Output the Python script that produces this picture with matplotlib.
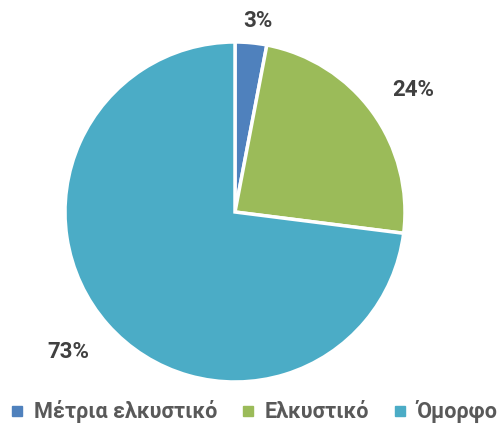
import numpy as np
import matplotlib.pyplot as plt
from matplotlib.lines import Line2D

plt.rcParams['font.family'] = ['Roboto', 'DejaVu Sans']

# δεδομένα
categories = ['Μέτρια ελκυστικό', 'Ελκυστικό', 'Όμορφο']
values = [3, 24, 73]
colors = ['#4F81BD', '#9BBB59', '#4BACC6']
label_dist = [1.13, 1.27, 1.28]

fig = plt.figure(figsize=(4.97, 4.30), dpi=100)
ax = fig.add_axes([65 / 497, (430 - 212 - 170) / 430, 340 / 497, 340 / 430])

wedges, _ = ax.pie(values, colors=colors, startangle=90, counterclock=False,
                   wedgeprops=dict(edgecolor='white', linewidth=2.5))
ax.set_xlim(-1, 1)
ax.set_ylim(-1, 1)
ax.set_aspect('equal')

# ετικέτες ποσοστών
for w, v, d in zip(wedges, values, label_dist):
    ang = np.deg2rad((w.theta1 + w.theta2) / 2 - 1.5)
    ax.text(d * np.cos(ang), d * np.sin(ang), f'{v}%', ha='center', va='center',
            fontsize=16, fontweight='bold', color='#404040', clip_on=False)

handles = [Line2D([0], [0], marker='s', linestyle='', markersize=7.5,
                  markerfacecolor=c, markeredgecolor=c) for c in colors]
fig.legend(handles, categories, loc='center', bbox_to_anchor=(0.51, 0.042),
           ncol=3, frameon=False, handlelength=0.7, handletextpad=0.4,
           columnspacing=1.1, borderpad=0,
           prop=dict(weight='bold', size=15.5), labelcolor='#595959')

fig.savefig('out.png', dpi=100)
